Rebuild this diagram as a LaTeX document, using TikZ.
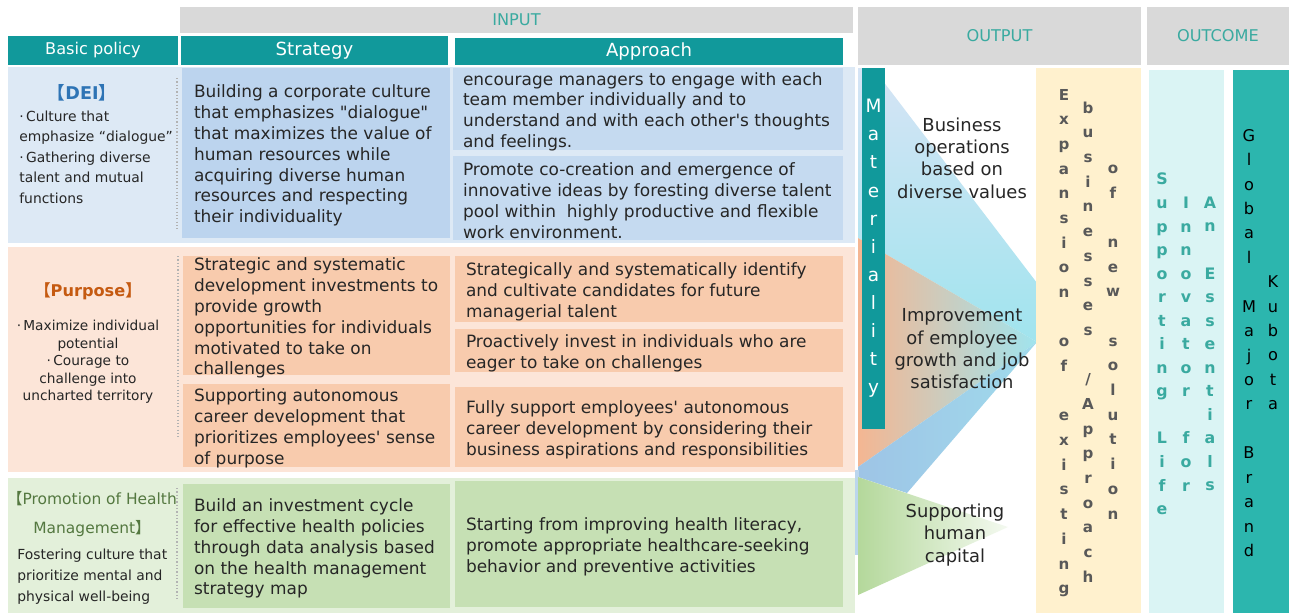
\documentclass[tikz,border=0pt]{standalone}
\usepackage{fontspec}
\setmainfont[Ligatures=TeXOff]{DejaVu Sans}
\newfontfamily\cjk{Noto Sans CJK JP}
\usetikzlibrary{positioning}

\definecolor{headteal}{RGB}{17,153,155}
\definecolor{headgray}{RGB}{217,217,217}
\definecolor{labteal}{RGB}{58,170,160}
\definecolor{deibg}{RGB}{221,233,245}
\definecolor{deibox}{RGB}{188,212,238}
\definecolor{deibox2}{RGB}{197,218,240}
\definecolor{purbg}{RGB}{252,229,216}
\definecolor{purbox}{RGB}{248,203,173}
\definecolor{helbg}{RGB}{227,240,218}
\definecolor{helbox}{RGB}{198,224,180}
\definecolor{expcol}{RGB}{255,241,206}
\definecolor{outlight}{RGB}{218,244,244}
\definecolor{outdark}{RGB}{44,182,174}
\definecolor{txtdark}{RGB}{38,38,38}
\definecolor{deihead}{RGB}{46,116,181}
\definecolor{purhead}{RGB}{197,90,17}
\definecolor{helhead}{RGB}{84,120,64}
\definecolor{stackgray}{RGB}{89,89,89}
\definecolor{funblue}{RGB}{172,199,232}
\definecolor{funpale}{RGB}{214,228,245}
\definecolor{funcyan}{RGB}{160,228,238}
\definecolor{funpeach}{RGB}{244,182,146}
\definecolor{funmid}{RGB}{232,218,210}
\definecolor{funband}{RGB}{158,196,230}
\definecolor{fungreen}{RGB}{180,216,155}

\tikzset{
	cell/.style={fill=#1, inner sep=0pt},
	graybar/.style={fill=headgray, text=labteal, inner sep=0pt, font=\fontsize{9.2}{11}\selectfont},
	tealbar/.style={fill=headteal, text=white, inner sep=0pt},
	body/.style={align=left, inner sep=0pt, yshift=-1.5pt, text=txtdark, font=\fontsize{9.65}{11.85}\selectfont},
	policy/.style={inner sep=0pt, text=txtdark, font=\fontsize{7.9}{11.7}\selectfont},
	outlabel/.style={align=center, inner sep=0pt, text=txtdark, font=\fontsize{10.2}{12.7}\selectfont},
	stack/.style={align=center, inner sep=0pt, text=stackgray, font=\bfseries\fontsize{8.6}{14.05}\selectfont},
	ostack/.style={align=center, inner sep=0pt, text=labteal, font=\bfseries\fontsize{9}{13.4}\selectfont},
	gstack/.style={align=center, inner sep=0pt, text=black, font=\fontsize{9.2}{13.9}\selectfont},
	dots/.style={gray!60, line width=0.7pt, dash pattern=on 0.7pt off 1.2pt},
}

\begin{document}
\begin{tikzpicture}[x=0.02cm, y=-0.02cm]
	\path[use as bounding box, fill=white] (0,0) rectangle (1289,613);

	% headers
	\node[graybar, minimum width=13.46cm, minimum height=0.52cm] (input) at (516.5,20) {INPUT};
	\node[graybar, minimum width=5.66cm, minimum height=1.16cm] (output) at (999.5,36) {OUTPUT};
	\node[graybar, minimum width=2.84cm, minimum height=1.16cm] (outcome) at (1218,36) {OUTCOME};
	\node[tealbar, minimum width=3.4cm, minimum height=0.58cm, font=\fontsize{9.2}{11}\selectfont] (policyhd) at (93,50.5) {Basic policy};
	\node[tealbar, minimum width=5.34cm, minimum height=0.58cm, font=\fontsize{10.3}{12}\selectfont] (strathd) at (314.5,50.5) {Strategy};
	\node[tealbar, minimum width=7.76cm, minimum height=0.54cm, font=\fontsize{10.3}{12}\selectfont] (apprhd) at (649,51.5) {Approach};

	% rows
	\fill[deibg] (8,67) rectangle (855,243);
	\fill[purbg] (8,247) rectangle (855,472);
	\fill[helbg] (8,478) rectangle (855,613);

	% DEI
	\node[font=\bfseries\fontsize{10}{12}\selectfont, text=deihead] (dei) at (82,93) {{\cjk 【}DEI{\cjk 】}};
	\node[policy, align=left, anchor=west] (deiP) at (19,157) {·\,Culture that\\emphasize “dialogue”\\·\,Gathering diverse\\talent and mutual\\functions};
	\draw[dots] (177,78) -- (177,230);
	\node[cell=deibox, minimum width=5.36cm, minimum height=3.4cm] (deiS) at (316,153) {};
	\node[body, right=0.24cm of deiS.west] (deiSt) {Building a corporate culture\\that emphasizes "dialogue"\\that maximizes the value of\\human resources while\\acquiring diverse human\\resources and respecting\\their individuality};
	\node[cell=deibox2, minimum width=7.8cm, minimum height=1.64cm] (deiA1) at (648,109) {};
	\node[body, right=0.2cm of deiA1.west] (deiA1t) {encourage managers to engage with each\\team member individually and to\\understand and with each other's thoughts\\and feelings.};
	\node[cell=deibox2, minimum width=7.8cm, minimum height=1.68cm] (deiA2) at (648,198) {};
	\node[body, right=0.2cm of deiA2.west] (deiA2t) {Promote co-creation and emergence of\\innovative ideas by foresting diverse talent\\pool within\ \ highly productive and flexible\\work environment.};

	% Purpose
	\node[font=\bfseries\fontsize{9.2}{12}\selectfont, text=purhead] (pur) at (88,291) {{\cjk 【}Purpose{\cjk 】}};
	\node[policy, align=center, font=\fontsize{7.8}{10}\selectfont] (purP) at (88,362) {·\,Maximize individual\\potential\\·\,Courage to\\challenge into\\uncharted territory};
	\draw[dots] (178,256) -- (178,437);
	\node[cell=purbox, minimum width=5.34cm, minimum height=2.38cm] (purS1) at (316.5,315.5) {};
	\node[body, right=0.22cm of purS1.west] (purS1t) {Strategic and systematic\\development investments to\\provide growth\\opportunities for individuals\\motivated to take on\\challenges};
	\node[cell=purbox, minimum width=5.34cm, minimum height=1.66cm] (purS2) at (316.5,425.5) {};
	\node[body, right=0.22cm of purS2.west] (purS2t) {Supporting autonomous\\career development that\\prioritizes employees' sense\\of purpose};
	\node[cell=purbox, minimum width=7.76cm, minimum height=1.32cm] (purA1) at (649,289) {};
	\node[body, right=0.22cm of purA1.west] (purA1t) {Strategically and systematically identify\\and cultivate candidates for future\\managerial talent};
	\node[cell=purbox, minimum width=7.76cm, minimum height=0.86cm] (purA2) at (649,350.5) {};
	\node[body, right=0.22cm of purA2.west] (purA2t) {Proactively invest in individuals who are\\eager to take on challenges};
	\node[cell=purbox, minimum width=7.76cm, minimum height=1.6cm] (purA3) at (649,427) {};
	\node[body, right=0.22cm of purA3.west] (purA3t) {Fully support employees' autonomous\\career development by considering their\\business aspirations and responsibilities};

	% Health
	\node[align=center, inner sep=0pt, text=helhead, font=\fontsize{8.8}{16.5}\selectfont] (hel) at (92,514.5) {{\cjk 【}Promotion of Health\\Management{\cjk 】}};
	\node[policy, align=left, anchor=west, font=\fontsize{7.9}{12}\selectfont] (helP) at (17,577) {Fostering culture that\\prioritize mental and\\physical well-being};
	\draw[dots] (177,488) -- (177,600);
	\node[cell=helbox, minimum width=5.34cm, minimum height=2.48cm] (helS) at (316.5,546) {};
	\node[body, right=0.22cm of helS.west] (helSt) {Build an investment cycle\\for effective health policies\\through data analysis based\\on the health management\\strategy map};
	\node[cell=helbox, minimum width=7.76cm, minimum height=2.52cm] (helA) at (649,544) {};
	\node[body, right=0.22cm of helA.west] (helAt) {Starting from improving health literacy,\\promote appropriate healthcare-seeking\\behavior and preventive activities};

	% output funnels
	\shade[top color=funpale, middle color=funblue, bottom color=funcyan] (858,68) -- (873,68) -- (1037,283) -- (1037,342) -- (858,238) -- cycle;
	\shade[left color=funpeach, middle color=funmid, right color=funcyan] (858,238) -- (1037,342) -- (858,467) -- cycle;
	\shade[left color=funband, right color=funcyan!70!funband] (858,467) -- (1037,342) -- (907,493) -- (858,477) -- cycle;
	\fill[funband!70] (855,470) rectangle (859,555);
	\shade[left color=fungreen, right color=fungreen!15] (858,477) -- (1008,527) -- (858,595) -- cycle;
	\node[cell=headteal, minimum width=0.46cm, minimum height=7.22cm, align=center, text=white, font=\fontsize{10.5}{16}\selectfont] (mat) at (873.5,248.5) {M\\a\\t\\e\\r\\i\\a\\l\\i\\t\\y};
	\node[outlabel] (bizops) at (962,158) {Business\\operations\\based on\\diverse values};
	\node[outlabel] (growth) at (962,349) {Improvement\\of employee\\growth and job\\satisfaction};
	\node[outlabel] (capital) at (955,535) {Supporting\\human\\capital};

	\node[cell=expcol, minimum width=2.1cm, minimum height=10.9cm] (expand) at (1088.5,340.5) {};
	\node[stack] (exp1) at (1064,343) {E\\x\\p\\a\\n\\s\\i\\o\\n\\~\\o\\f\\~\\e\\x\\i\\s\\t\\i\\n\\g};
	\node[stack] (exp2) at (1088,342) {b\\u\\s\\i\\n\\e\\s\\s\\e\\s\\~\\/\\A\\p\\p\\r\\o\\a\\c\\h};
	\node[stack] (exp3) at (1113,342) {o\\f\\~\\n\\e\\w\\~\\s\\o\\l\\u\\t\\i\\o\\n};

	% outcome
	\node[cell=outlight, minimum width=1.5cm, minimum height=10.86cm] (outL) at (1186.5,341.5) {};
	\node[cell=outdark, minimum width=1.12cm, minimum height=10.86cm] (outD) at (1261,341.5) {};
	\node[ostack] (life) at (1162,344) {S\\u\\p\\p\\o\\r\\t\\i\\n\\g\\~\\L\\i\\f\\e};
	\node[ostack] (innov) at (1186,344) {I\\n\\n\\o\\v\\a\\t\\o\\r\\~\\f\\o\\r};
	\node[ostack] (essen) at (1210,344) {A\\n\\~\\E\\s\\s\\e\\n\\t\\i\\a\\l\\s};
	\node[gstack] (brand) at (1249,343) {G\\l\\o\\b\\a\\l\\~\\M\\a\\j\\o\\r\\~\\B\\r\\a\\n\\d};
	\node[gstack] (kubota) at (1273,343) {K\\u\\b\\o\\t\\a};
\end{tikzpicture}
\end{document}
